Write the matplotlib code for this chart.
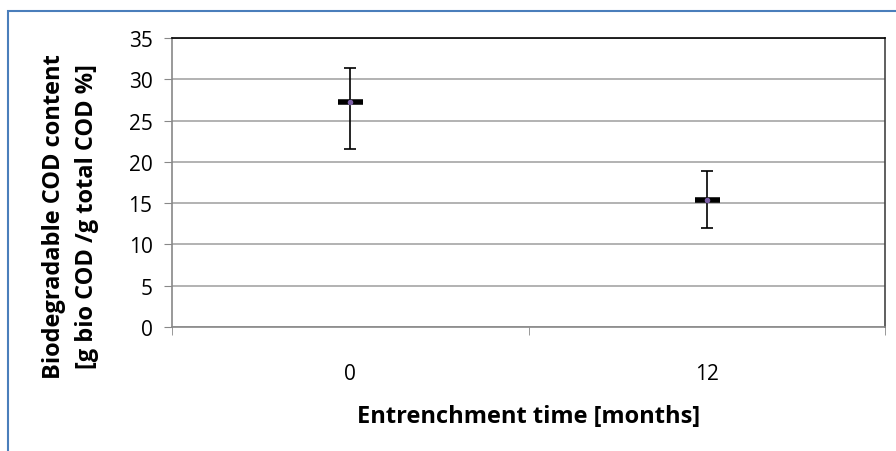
import numpy as np
import matplotlib.pyplot as plt
from matplotlib.patches import Rectangle

months = ['0', '12']
cod_mean = [27.3, 15.4]
err_upper = [31.4, 18.9]
err_lower = [21.5, 12.0]

plt.rcParams['font.family'] = ['Open Sans', 'DejaVu Sans']

fig = plt.figure(figsize=(8.96, 4.52), dpi=100)
ax = fig.add_axes([172/896, 1 - 328/452, (885-172)/896, (328-39)/452])

x = np.arange(len(months))
mean = np.array(cod_mean)
yerr = [mean - np.array(err_lower), np.array(err_upper) - mean]

ax.errorbar(x, mean, yerr=yerr, fmt='none', ecolor='black', elinewidth=1.2,
            capsize=4, capthick=1.2, zorder=3)
ax.plot(x, mean, linestyle='none', marker='_', markersize=18, markeredgewidth=4,
        color='black', zorder=4)
ax.plot(x, mean, linestyle='none', marker='o', markersize=4, color='#7b5fa6',
        markeredgewidth=0, zorder=5)

ax.set_xlim(-0.5, len(months) - 0.5)
ax.set_ylim(0, 35)
ax.set_yticks(np.arange(0, 36, 5))
ax.set_xticks(x)
ax.set_xticklabels(months)
ax.set_xticks(np.arange(-0.5, len(months), 1.0), minor=True)
ax.tick_params(axis='x', which='major', length=0, pad=26, labelsize=15)
ax.tick_params(axis='x', which='minor', length=6, color='#888888', direction='out')
ax.tick_params(axis='y', length=6, color='#888888', direction='out', pad=8, labelsize=15)
ax.yaxis.grid(True, color='#a6a6a6', linewidth=1.2)
ax.set_axisbelow(True)

ax.spines['top'].set_color('black')
ax.spines['right'].set_color('#444444')
ax.spines['left'].set_color('#888888')
ax.spines['bottom'].set_color('#888888')
for s in ax.spines.values():
    s.set_linewidth(1.2)

ax.set_xlabel('Entrenchment time [months]', fontsize=17, fontweight='bold', labelpad=14)
ax.set_ylabel('Biodegradable COD content\n[g bio COD /g total COD %]', fontsize=17,
              fontweight='bold', linespacing=1.5)
ax.yaxis.set_label_coords(-0.103, 0.384)

fig.patches.append(Rectangle((8/896, -0.2), 1.5, 1 - 12/452 + 0.2, transform=fig.transFigure,
                             fill=False, edgecolor='#4a7ebb', linewidth=1.5))

fig.savefig('out.png', dpi=100)
